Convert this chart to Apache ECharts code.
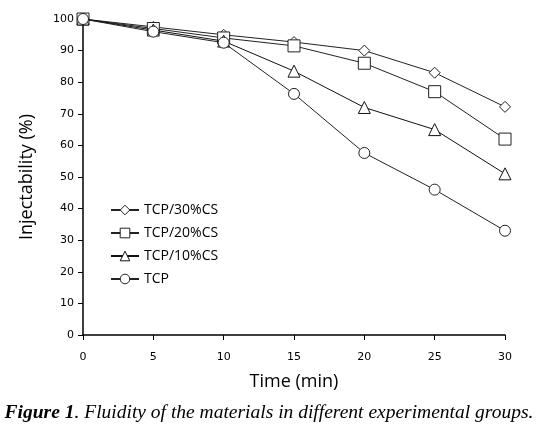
<!DOCTYPE html>
<html><head><meta charset="utf-8">
<script src="https://cdn.jsdelivr.net/npm/echarts@6/dist/echarts.min.js"></script>
<style>html,body{margin:0;padding:0;background:#fff}#c{width:538px;height:430px}</style>
</head><body><div id="c"></div>
<script>
const times = [0, 5, 10, 15, 20, 25, 30];
const seriesNames = ['TCP/30%CS', 'TCP/20%CS', 'TCP/10%CS', 'TCP'];
const tcp30 = [100, 97.5, 95, 92.7, 90, 83, 72.2];
const tcp20 = [100, 97, 94, 91.5, 86, 77, 62];
const tcp10 = [100, 96.5, 93, 83.5, 72, 65, 51];
const tcp0  = [100, 96, 92.5, 76.3, 57.6, 46, 33];
const symbols = ['diamond', 'rect', 'triangle', 'circle'];
const sizes = [11, 12, 12, 11];
const colors = ['#222', '#222', '#111', '#222'];
const allData = [tcp30, tcp20, tcp10, tcp0];

const chart = echarts.init(document.getElementById('c'), null, {renderer: 'canvas'});
const tickFont = {fontFamily: 'DejaVu Sans', fontSize: 11, color: '#000'};
chart.setOption({
  animation: false,
  backgroundColor: '#fff',
  grid: {left: 83, right: 33, top: 19, bottom: 95, containLabel: false},
  xAxis: {
    type: 'value', min: 0, max: 30, interval: 5,
    name: 'Time (min)', nameLocation: 'middle', nameGap: 38,
    nameTextStyle: {fontFamily: 'Open Sans', fontSize: 18, color: '#000'},
    axisLine: {lineStyle: {color: '#000', width: 1.5}},
    axisTick: {show: true, inside: false, length: 5, lineStyle: {color: '#000'}},
    axisLabel: Object.assign({margin: 17}, tickFont),
    splitLine: {show: false}
  },
  yAxis: {
    type: 'value', min: 0, max: 100, interval: 10,
    name: 'Injectability (%)', nameLocation: 'middle', nameGap: 47, nameRotate: 90,
    nameTextStyle: {fontFamily: 'Open Sans', fontSize: 18, color: '#000'},
    axisLine: {show: true, lineStyle: {color: '#000', width: 1.5}},
    axisTick: {show: true, inside: false, length: 5, lineStyle: {color: '#000'}},
    axisLabel: Object.assign({margin: 9}, tickFont),
    splitLine: {show: false}
  },
  legend: {
    orient: 'vertical', left: 105, top: 198, itemGap: 9,
    itemWidth: 28, itemHeight: 12,
    data: seriesNames,
    itemStyle: {borderWidth: 1},
    textStyle: {fontFamily: 'Open Sans', fontSize: 14, color: '#000'}
  },
  graphic: [{
    type: 'text', left: 'center', top: 403,
    style: {
      rich: {
        b: {fontFamily: 'Liberation Serif', fontSize: 19.5, fontStyle: 'italic', fontWeight: 'bold', fill: '#000'},
        i: {fontFamily: 'Liberation Serif', fontSize: 19.5, fontStyle: 'italic', fill: '#000'}
      },
      text: '{b|Figure 1}{i|. Fluidity of the materials in different experimental groups.}'
    }
  }],
  series: seriesNames.map((n, k) => ({
    name: n, type: 'line',
    data: times.map((t, i) => [t, allData[k][i]]),
    symbol: symbols[k], symbolSize: sizes[k],
    showAllSymbol: true,
    itemStyle: {color: '#fff', borderColor: colors[k], borderWidth: 1},
    lineStyle: {color: colors[k], width: 1},
    z: 2 + k
  }))
});
</script></body></html>
